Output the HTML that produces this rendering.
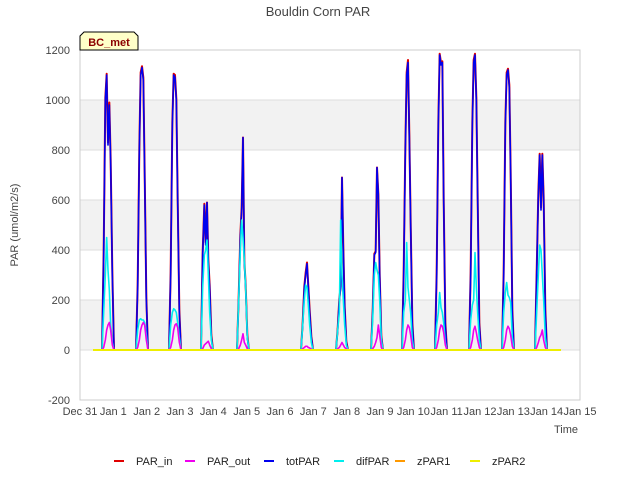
<!DOCTYPE html>
<html><head><meta charset="utf-8"><style>
body{margin:0;background:#fff;font-family:"Liberation Sans",sans-serif}
</style></head><body>
<svg id="c" width="640" height="480" xmlns="http://www.w3.org/2000/svg" font-family="Liberation Sans, sans-serif">
<text x="318" y="16" text-anchor="middle" font-size="13" fill="#444">Bouldin Corn PAR</text>
<g id="grid"></g>
<g id="series"></g>
<rect x="80" y="50" width="500" height="350" fill="none" stroke="#ccc"/>
<g id="axes" font-size="11" fill="#444"></g>
<text x="18" y="225" transform="rotate(-90 18 225)" text-anchor="middle" font-size="11" fill="#444">PAR (umol/m2/s)</text>
<text x="578" y="433" text-anchor="end" font-size="11" fill="#444">Time</text>
<g><path d="M80,50 L80,36 L84,32 L134,32 L138,36 L138,50 Z" fill="#ffffc8" stroke="#000"/><text x="109" y="46" text-anchor="middle" font-size="11" font-weight="bold" fill="#8b0000">BC_met</text></g>
<g id="legend" font-size="11" fill="#222"></g>
</svg>
<script>
const yTicks=[-200,0,200,400,600,800,1000,1200];
const xLabels=["Dec 31","Jan 1","Jan 2","Jan 3","Jan 4","Jan 5","Jan 6","Jan 7","Jan 8","Jan 9","Jan 10","Jan 11","Jan 12","Jan 13","Jan 14","Jan 15"];
const peakDays=[0.84,1.86,2.85,3.81,4.89,6.81,7.86,8.91,9.84,10.83,11.85,12.84,13.83];
const offsets=[-0.18,-0.13,-0.08,-0.04,0,0.04,0.08,0.13,0.18];
const totPAR=[[0,380,1000,1100,820,980,750,300,0],[0,250,800,1100,1130,1080,700,200,0],[0,300,900,1100,1090,1000,600,150,0],[0,380,580,420,590,350,250,50,0],[0,200,450,560,850,350,250,50,0],[0,100,250,300,345,250,150,50,0],[0,80,200,250,690,400,170,30,0],[0,150,380,390,730,620,300,50,0],[0,300,800,1100,1150,850,500,100,0],[0,300,900,1180,1140,1150,600,100,0],[0,300,900,1150,1180,1000,600,100,0],[0,300,900,1100,1120,1050,700,150,0],[0,300,620,780,560,780,600,150,0]];
const parIn=[[0,390,1010,1105,830,990,760,310,0],[0,260,810,1110,1135,1090,710,210,0],[0,310,910,1105,1100,1005,610,160,0],[0,390,585,430,590,360,260,60,0],[0,210,460,570,850,360,260,60,0],[0,110,255,310,350,255,160,55,0],[0,85,205,255,690,405,175,35,0],[0,155,385,395,730,625,305,55,0],[0,310,810,1110,1160,860,510,110,0],[0,310,910,1185,1150,1155,610,110,0],[0,310,910,1160,1185,1010,610,110,0],[0,310,910,1110,1125,1060,710,160,0],[0,310,630,785,570,785,610,160,0]];
const difPAR=[[0,150,300,450,320,240,100,30,0],[0,80,120,125,120,120,110,60,0],[0,100,150,165,160,150,110,50,0],[0,250,380,400,440,300,150,40,0],[0,200,400,520,450,360,250,50,0],[0,100,200,260,250,180,100,30,0],[0,80,150,520,300,200,100,20,0],[0,120,300,350,320,300,200,40,0],[0,150,200,430,250,200,150,40,0],[0,100,150,230,170,150,110,30,0],[0,120,180,200,390,250,150,40,0],[0,150,230,270,220,210,190,50,0],[0,150,300,420,400,300,200,50,0]];
const parOut=[[0,10,40,80,100,110,80,20,0],[0,10,40,80,100,110,100,40,0],[0,10,40,80,100,105,90,30,0],[0,5,20,25,30,35,20,5,0],[0,5,20,40,65,30,20,5,0],[0,5,10,15,15,10,8,3,0],[0,5,10,20,30,20,10,5,0],[0,5,15,30,50,100,60,10,0],[0,10,40,80,100,90,60,10,0],[0,10,40,80,100,95,70,20,0],[0,10,40,80,95,70,40,10,0],[0,10,40,80,95,85,60,15,0],[0,10,30,50,60,80,40,10,0]];
const zStart=0.39, zEnd=14.43;
const NS="http://www.w3.org/2000/svg";
const X=d=>80+d*(500/15);
const Y=v=>350-v*0.25;
function mk(tag,attrs,parent){const e=document.createElementNS(NS,tag);for(const k in attrs)e.setAttribute(k,attrs[k]);parent.appendChild(e);return e;}
const grid=document.getElementById('grid'),axes=document.getElementById('axes'),ser=document.getElementById('series'),leg=document.getElementById('legend');
[[0,200],[400,600],[800,1000]].forEach(b=>{const r=mk('rect',{x:80,y:Y(b[1]),width:500,height:Y(b[0])-Y(b[1]),fill:'#f2f2f2'},grid);

});
yTicks.forEach(v=>{const l=mk('line',{x1:80,x2:580,y1:Y(v),y2:Y(v),stroke:'#ddd'},grid);


const t=mk('text',{x:70,y:Y(v)+4,'text-anchor':'end'},axes);t.textContent=v;

});
xLabels.forEach((s,i)=>{const t=mk('text',{x:X(i),y:415,'text-anchor':'middle'},axes);t.textContent=s;

});
function draw(arr,color,name,w){arr.forEach((vals,i)=>{const pts=vals.map((v,j)=>X(peakDays[i]+offsets[j])+','+Y(v)).join(' ');
const p=mk('polyline',{points:pts,fill:'none',stroke:color,'stroke-width':w,'stroke-linejoin':'round'},ser);

});}
draw(parIn,'#e00000','par-in',2);
draw(totPAR,'#0000ee','tot-par',1.6);
draw(difPAR,'#00eeee','dif-par',1.6);
draw(parOut,'#ee00ee','par-out',1.6);
const z1=mk('line',{x1:X(zStart),x2:X(zEnd),y1:Y(0),y2:Y(0),stroke:'#ff9900','stroke-width':2},ser);


const z2=mk('line',{x1:X(zStart),x2:X(zEnd),y1:Y(0),y2:Y(0),stroke:'#eeee00','stroke-width':2},ser);


const legItems=[["PAR_in","#e00000",117],["PAR_out","#ee00ee",188],["totPAR","#0000ee",267],["difPAR","#00eeee",337],["zPAR1","#ff9900",398],["zPAR2","#eeee00",473]];
legItems.forEach(it=>{const g=mk('g',{},leg);


mk('line',{x1:it[2]-3,x2:it[2]+7,y1:461,y2:461,stroke:it[1],'stroke-width':2},g);
const t=mk('text',{x:it[2]+19,y:465},g);t.textContent=it[0];});
</script>
</body></html>
